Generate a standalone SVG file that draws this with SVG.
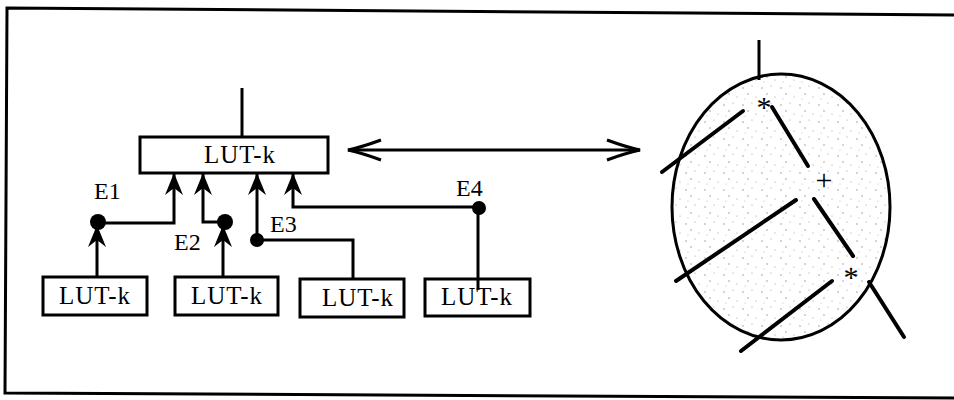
<svg xmlns="http://www.w3.org/2000/svg" width="954" height="400" viewBox="0 0 954 400">
<style>
  .box { fill: #fff; stroke: #000; stroke-width: 3; }
  .lbl { font-family: "Liberation Serif", "Times New Roman", serif; font-size: 25px; letter-spacing: 1px; fill: #000; text-anchor: middle; }
  .elbl { font-family: "Liberation Serif", "Times New Roman", serif; font-size: 24px; fill: #000; }
  .sym { font-family: "Liberation Serif", "Times New Roman", serif; font-size: 30px; fill: #000; text-anchor: middle; }
  .wire { fill: none; stroke: #000; stroke-width: 3; }
  .tree { fill: none; stroke: #000; stroke-width: 4; stroke-linecap: round; }
  .dot { fill: #000; }
</style>
<defs>
  <marker id="barb" viewBox="0 0 22 18" refX="21" refY="9" markerWidth="22" markerHeight="18" markerUnits="userSpaceOnUse" orient="auto">
    <path d="M0,0 L22,9 L0,18 L7,9 Z" fill="#000"/>
  </marker>
  <pattern id="stip" width="19" height="17" patternUnits="userSpaceOnUse">
    <rect width="19" height="17" fill="#fff"/>
    <circle cx="2" cy="3" r="0.7" fill="#888"/>
    <circle cx="11" cy="1" r="0.6" fill="#999"/>
    <circle cx="7" cy="9" r="0.7" fill="#888"/>
    <circle cx="15" cy="12" r="0.6" fill="#999"/>
    <circle cx="4" cy="14" r="0.5" fill="#aaa"/>
  </pattern>
</defs>

<!-- frame -->
<polyline points="954,15 7,8 5,393 954,398" fill="none" stroke="#000" stroke-width="3"/>

<g id="connectors">
  <line class="wire" x1="242" y1="88" x2="242" y2="137"/>
  <path class="wire" d="M98,223 H174 V174" marker-end="url(#barb)"/>
  <path class="wire" d="M225,222 H203 V174" marker-end="url(#barb)"/>
  <path class="wire" d="M257,240 V174" marker-end="url(#barb)"/>
  <path class="wire" d="M479,207 H293 V174" marker-end="url(#barb)"/>
  <path class="wire" d="M97,277 V226" marker-end="url(#barb)"/>
  <path class="wire" d="M223,277 V226" marker-end="url(#barb)"/>
  <path class="wire" d="M257,240 H353 V279"/>
  <path class="wire" d="M478,207 V290"/>
  <!-- double arrow -->
  <line class="wire" x1="348" y1="150" x2="640" y2="150"/>
  <path class="wire" d="M381,140 Q362,147 348,150 Q362,153 381,160"/>
  <path class="wire" d="M607,140 Q626,147 640,150 Q626,153 607,160"/>
</g>

<g id="dots">
  <circle class="dot" cx="98" cy="222" r="8"/>
  <circle class="dot" cx="225" cy="222" r="8"/>
  <circle class="dot" cx="257" cy="240" r="7"/>
  <circle class="dot" cx="479" cy="208" r="7"/>
</g>

<g id="lut-top">
  <rect class="box" x="140" y="137" width="188" height="36"/>
  <text class="lbl" x="240" y="163">LUT-k</text>
</g>
<g id="lut-1">
  <rect class="box" x="43" y="277" width="104" height="38"/>
  <text class="lbl" x="95" y="304">LUT-k</text>
</g>
<g id="lut-2">
  <rect class="box" x="175" y="277" width="103" height="38"/>
  <text class="lbl" x="227" y="304">LUT-k</text>
</g>
<g id="lut-3">
  <rect class="box" x="300" y="279" width="104" height="38"/>
  <text class="lbl" x="358" y="306">LUT-k</text>
</g>
<g id="lut-4">
  <rect class="box" x="425" y="279" width="105" height="37"/>
  <line class="wire" x1="478" y1="279" x2="478" y2="290"/>
  <text class="lbl" x="477" y="305">LUT-k</text>
</g>

<g id="labels">
  <text class="elbl" x="94" y="199">E1</text>
  <text class="elbl" x="174" y="250">E2</text>
  <text class="elbl" x="270" y="232">E3</text>
  <text class="elbl" x="456" y="196">E4</text>
</g>

<g id="tree">
  <ellipse cx="781" cy="207" rx="109" ry="133" fill="url(#stip)" stroke="#000" stroke-width="3"/>
  <line class="wire" x1="759" y1="40" x2="759" y2="80"/>
  <text class="sym" x="764" y="117">*</text>
  <line class="tree" x1="772" y1="107" x2="808" y2="166"/>
  <line class="tree" x1="743" y1="111" x2="662" y2="172"/>
  <text class="sym" x="824" y="190">+</text>
  <line class="tree" x1="814" y1="199" x2="853" y2="256"/>
  <line class="tree" x1="796" y1="200" x2="676" y2="281"/>
  <text class="sym" x="851" y="287">*</text>
  <line class="tree" x1="869" y1="282" x2="904" y2="337"/>
  <line class="tree" x1="832" y1="281" x2="741" y2="351"/>
</g>
</svg>
